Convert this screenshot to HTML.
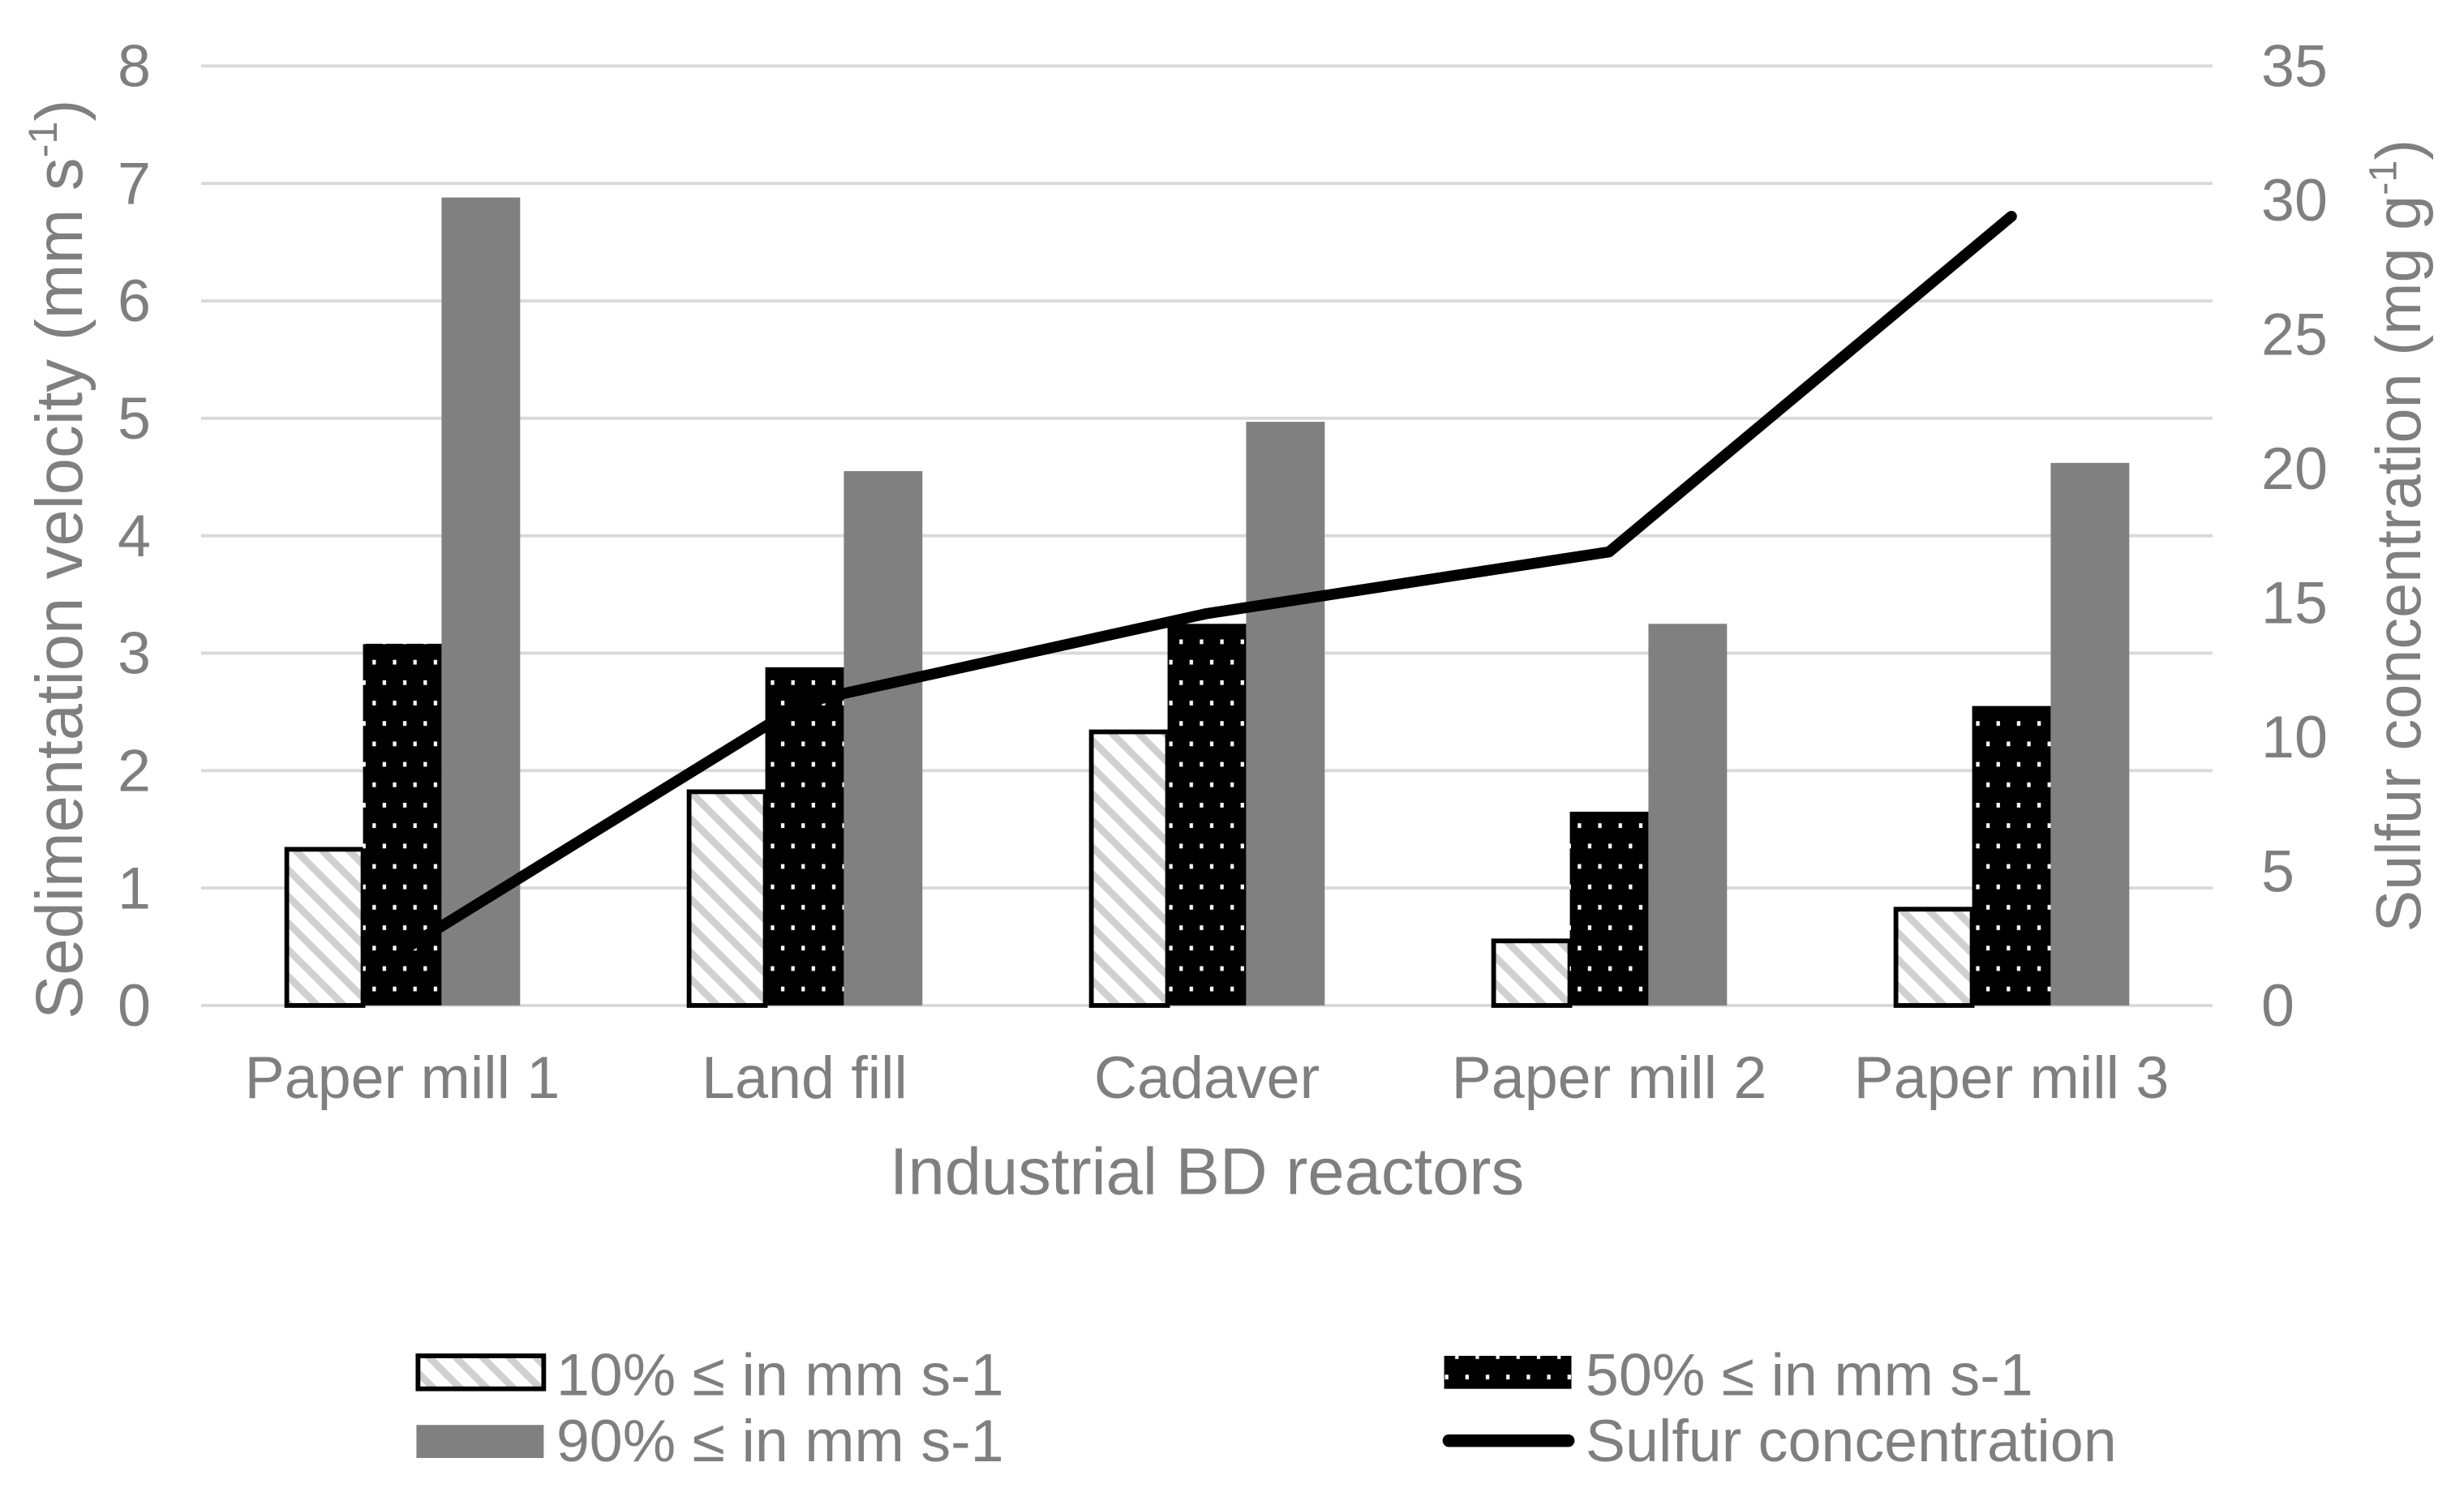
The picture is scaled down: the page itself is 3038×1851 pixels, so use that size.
<!DOCTYPE html>
<html><head><meta charset="utf-8"><style>
html,body{margin:0;padding:0;background:#fff;}
svg{display:block;font-family:"Liberation Sans",Arial,sans-serif;}
</style></head><body>
<svg id="chart" width="3038" height="1851" viewBox="0 0 1568 955.4" preserveAspectRatio="none" xmlns="http://www.w3.org/2000/svg">
<defs>
<pattern id="hatch" patternUnits="userSpaceOnUse" width="12" height="12" patternTransform="rotate(-45)">
<rect width="12" height="12" fill="#fff"/><rect x="0" y="0" width="4.5" height="12" fill="#d0d0d0"/>
</pattern>
<pattern id="dots" patternUnits="userSpaceOnUse" width="13" height="26">
<rect width="13" height="26" fill="#000"/><rect x="3" y="4" width="2.2" height="3" fill="#fff"/><rect x="9.5" y="17" width="2.2" height="3" fill="#fff"/>
</pattern>
</defs>
<g id="grid"></g>
<g id="bars"></g>
<g id="line"></g>
<g id="labels" fill="#7f7f7f"></g>
<text transform="translate(52,356) rotate(-90)" text-anchor="middle" font-size="42" fill="#7f7f7f">Sedimentation velocity (mm s<tspan font-size="26" dy="-16">-1</tspan><tspan dy="16">)</tspan></text>
<text transform="translate(1540,341) rotate(-90)" text-anchor="middle" font-size="40" fill="#7f7f7f">Sulfur concentration (mg g<tspan font-size="25" dy="-15">-1</tspan><tspan dy="15">)</tspan></text>
<text x="768" y="760" text-anchor="middle" font-size="42" fill="#7f7f7f">Industrial BD reactors</text>
<g font-size="38" fill="#7f7f7f">
<g><rect x="266" y="863" width="80" height="21" fill="url(#hatch)" stroke="#000" stroke-width="3"/><text x="354" y="888">10% ≤ in mm s-1</text></g>
<g><rect x="919" y="863" width="81" height="21" fill="url(#dots)"/><text x="1009" y="888">50% ≤ in mm s-1</text></g>
<g><rect x="265" y="907" width="81" height="21" fill="#808080"/><text x="354" y="930">90% ≤ in mm s-1</text></g>
<g><line x1="922" y1="917" x2="998" y2="917" stroke="#000" stroke-width="8" stroke-linecap="round"/><text x="1009" y="930">Sulfur concentration</text></g>
</g>
</svg>
<script>
const categories=["Paper mill 1","Land fill","Cadaver","Paper mill 2","Paper mill 3"];
const p10=[1.33,1.82,2.33,0.55,0.82];
const p50=[3.08,2.88,3.25,1.65,2.55];
const p90=[6.88,4.55,4.97,3.25,4.62];
const sulfur=[2.05,11.3,14.6,16.9,29.4];
const yTicks=[0,1,2,3,4,5,6,7,8];
const y2Ticks=[0,5,10,15,20,25,30,35];
const NS="http://www.w3.org/2000/svg";
const L=128,R=1408,T=42,B=640;
const y=v=>B-(B-T)*v/8;
const y2=v=>B-(B-T)*v/35;
const bw=(R-L)/categories.length;
const cx=i=>L+bw*(i+0.5);
function mk(t,a,p){const e=document.createElementNS(NS,t);for(const k in a)e.setAttribute(k,a[k]);p.appendChild(e);return e;}
const grid=document.getElementById('grid'),bars=document.getElementById('bars'),labels=document.getElementById('labels'),line=document.getElementById('line');
yTicks.forEach(v=>{
 const g=mk('line',{x1:L,x2:R,y1:y(v),y2:y(v),stroke:'#d9d9d9','stroke-width':2},grid);
 
 
 const t=mk('text',{x:96,y:y(v)+13,'text-anchor':'end','font-size':38},labels);t.textContent=v;
 
 
});
y2Ticks.forEach(v=>{
 const t=mk('text',{x:1439,y:y2(v)+13,'font-size':38},labels);t.textContent=v;
 
 
});
const W=50;
categories.forEach((c,i)=>{
 const t=mk('text',{x:cx(i),y:699,'text-anchor':'middle','font-size':38},labels);t.textContent=c;
 
 
 const x0=cx(i)-75;
 const b1=mk('rect',{x:x0+1.5,y:y(p10[i]),width:W-1.5,height:B-y(p10[i]),fill:'url(#hatch)',stroke:'#000','stroke-width':3},bars);
 
 
 const b2=mk('rect',{x:x0+W,y:y(p50[i]),width:W,height:B-y(p50[i]),fill:'url(#dots)'},bars);
 
 
 const b3=mk('rect',{x:x0+2*W,y:y(p90[i]),width:W,height:B-y(p90[i]),fill:'#808080'},bars);
 
 
});
const pl=mk('polyline',{points:sulfur.map((v,i)=>cx(i)+','+y2(v)).join(' '),fill:'none',stroke:'#000','stroke-width':7,'stroke-linecap':'round','stroke-linejoin':'round'},line);


</script>
</body></html>
